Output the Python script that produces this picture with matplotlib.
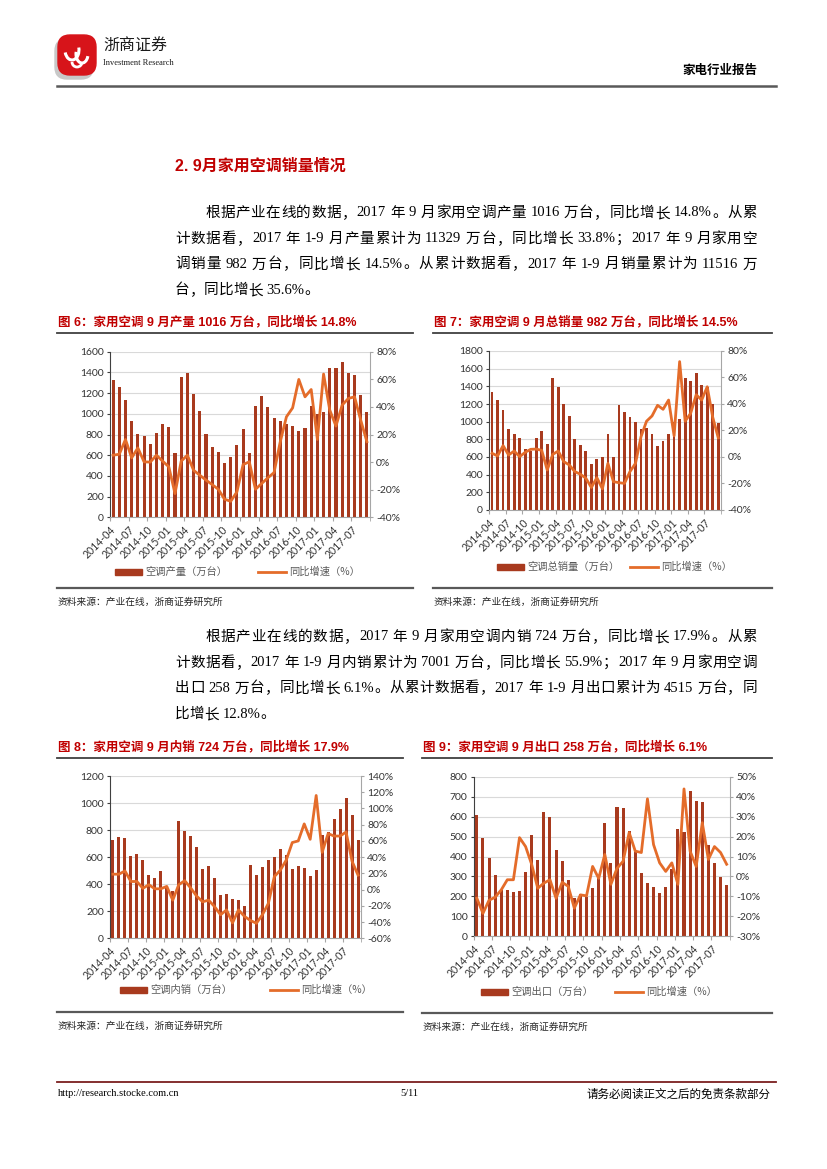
import re
import numpy as np
import matplotlib
matplotlib.use('Agg')
import matplotlib.pyplot as plt
from matplotlib.lines import Line2D
from matplotlib.patches import Rectangle, Ellipse, Arc, FancyBboxPatch

W, H = 827, 1169
BAR = '#A83A1E'
LINE = '#E46C2A'
RED = '#C00000'
CJK = 'Noto Sans CJK SC'

# x axis labels, one every 3 months (2014-04 .. 2017-09 = 42 months)
tick_labels = ['2014-04', '2014-07', '2014-10', '2015-01', '2015-04', '2015-07', '2015-10',
               '2016-01', '2016-04', '2016-07', '2016-10', '2017-01', '2017-04', '2017-07']

production = [1326, 1255, 1132, 926, 806, 787, 713, 816, 900, 877, 619, 1352, 1390, 1187, 1026,
              806, 677, 635, 523, 584, 703, 852, 619, 1074, 1168, 1065, 958, 926, 900, 884,
              832, 861, 1071, 994, 1013, 1439, 1439, 1497, 1390, 1371, 1177, 1016]
production_yoy = [5.0, 5.7, 16.4, 3.1, 10.3, 0.2, 0.0, 5.0, 0.7, -3.4, -22.8, 0.7, 5.0, -5.9,
                  -9.5, -13.0, -16.3, -19.7, -26.9, -28.4, -21.6, -1.8, 0.2, -19.7, -15.5,
                  -11.4, -7.6, 14.7, 32.8, 39.3, 59.9, 47.3, 52.6, 16.4, 63.8, 37.7, 26.1,
                  41.3, 46.1, 47.3, 30.4, 14.8]

sales = [1332, 1245, 1132, 917, 857, 815, 691, 670, 819, 894, 743, 1494, 1396, 1196, 1064,
         804, 736, 664, 525, 577, 600, 857, 600, 1189, 1113, 1057, 1000, 917, 925, 857,
         725, 781, 857, 994, 1030, 1494, 1464, 1547, 1415, 1396, 1200, 982]
sales_yoy = [2.8, 0.8, 8.6, 1.5, 4.5, 0.3, 3.5, 5.8, 6.0, 5.0, -9.8, 2.0, 4.5, -3.5, -6.0,
             -11.0, -13.0, -16.0, -23.0, -15.6, -24.0, -4.8, -18.6, -19.4, -19.9, -11.0,
             -4.8, 15.3, 27.0, 31.0, 39.0, 36.0, 43.0, 16.0, 72.0, 27.0, 33.0, 47.0, 43.0,
             53.0, 30.0, 14.5]

domestic = [727, 746, 739, 611, 623, 579, 466, 443, 495, 375, 352, 868, 797, 758, 677, 515,
            535, 447, 318, 330, 288, 283, 239, 542, 466, 530, 576, 603, 663, 613, 510, 532,
            522, 458, 507, 764, 785, 882, 958, 1034, 909, 724]
domestic_yoy = [19, 19, 23, 10, 10, 1.6, 6, 1, 1, 4, -13, 6, 11, 2, -8, -15, -13, -21, -31,
                -25, -41, -25, -33, -38, -41.5, -31, -17, 16, 24, 36.5, 58, 60, 81, 62, 116,
                46, 69, 66, 66, 71, 35, 17.9]

exports = [610, 495, 393, 305, 232, 233, 222, 228, 320, 510, 383, 625, 598, 433, 378, 283,
           190, 209, 198, 240, 305, 570, 365, 650, 645, 528, 425, 318, 267, 245, 214, 247,
           335, 536, 522, 732, 680, 674, 460, 366, 296, 258]
exports_yoy = [-11, -18.6, -12, -10.5, -6.8, -1.7, -1.7, 19.5, 15, 6, -6, -3.4, -1.7, -11, -3,
               -5, -16, -9.3, -9.8, 5, -1, 11, -4, 4, 7.6, 22, 12.7, 12, 39, 16, 6.8, 2.5,
               6.8, -4, 44, 12.7, 5, 27, 8.5, 15, 12, 6.1]

para1 = ['根据产业在线的数据，2017 年 9 月家用空调产量 1016 万台，同比增长 14.8%。从累',
         '计数据看，2017 年 1-9 月产量累计为 11329 万台，同比增长 33.8%；2017 年 9 月家用空',
         '调销量 982 万台，同比增长 14.5%。从累计数据看，2017 年 1-9 月销量累计为 11516 万',
         '台，同比增长 35.6%。']
para2 = ['根据产业在线的数据，2017 年 9 月家用空调内销 724 万台，同比增长 17.9%。从累',
         '计数据看，2017 年 1-9 月内销累计为 7001 万台，同比增长 55.9%；2017 年 9 月家用空调',
         '出口 258 万台，同比增长 6.1%。从累计数据看，2017 年 1-9 月出口累计为 4515 万台，同',
         '比增长 12.8%。']

fig = plt.figure(figsize=(W / 100, H / 100), dpi=100)
renderer = fig.canvas.get_renderer()


def fx(x):
    return x / W


def fy(y):
    return 1 - y / H


def text(x, y, s, **kw):
    kw.setdefault('va', 'center')
    return fig.text(fx(x), fy(y), s, **kw)


def hline(x0, x1, y, color, lw):
    fig.add_artist(Line2D([fx(x0), fx(x1)], [fy(y), fy(y)], color=color, lw=lw))


def justify(x0, x1, y, s, size, stretch=True):
    # split into single CJK chars and latin words, then spread them over the line
    parts = re.findall(r'[\x21-\x7e]+|\s+|[^\x00-\x7f]', s)
    toks, gaps = [], []
    sp = False
    for p in parts:
        if p.isspace():
            sp = True
            continue
        toks.append(p)
        gaps.append(sp)
        sp = False
    em = size * 100 / 72
    ws = []
    for tk in toks:
        if tk.isascii():
            t = fig.text(0, 0, tk, fontsize=size, family='Liberation Serif')
            ws.append(t.get_window_extent(renderer).width)
            t.remove()
        else:
            ws.append(em)
    space_w = 0.25 * em
    natural = sum(ws) + space_w * sum(gaps)
    extra = (x1 - x0 - natural) / (len(toks) - 1) if stretch else 0
    x = x0
    for i, tk in enumerate(toks):
        if i > 0:
            x += extra + (space_w if gaps[i] else 0)
        if tk.isascii():
            text(x, y, tk, fontsize=size, family='Liberation Serif', color='black')
        else:
            text(x, y, tk, fontsize=size, family=CJK, weight='light', color='black')
        x += ws[i]


def draw_chart(box, bars, yoy, ymax, ystep, rmin, rmax, rstep):
    l, t, r, b = box
    ax = fig.add_axes([fx(l), fy(b), fx(r) - fx(l), fy(t) - fy(b)])
    x = np.arange(len(bars))
    ax.bar(x, bars, width=0.5, color=BAR, zorder=2)
    ax.set_xlim(-0.5, len(bars) - 0.5)
    ax.set_ylim(0, ymax)
    ax.set_yticks(np.arange(0, ymax + 1, ystep))
    ax.yaxis.grid(True, color='#D9D9D9', lw=0.8)
    ax.set_axisbelow(True)
    ax.set_xticks(np.arange(0, len(bars), 3) - 0.5)
    ax.set_xticks([len(bars) - 0.5], minor=True)
    ax.set_xticklabels(tick_labels, rotation=45, ha='right', rotation_mode='anchor',
                       fontsize=7.6, color='#333333', family='Lato')
    ax.tick_params(axis='x', which='both', length=3, color='#A6A6A6', pad=2)
    ax.tick_params(axis='y', length=2.5, color='#404040', labelsize=7.5, labelcolor='#333333', pad=2)
    for lab in ax.get_yticklabels():
        lab.set_family('Lato')
    ax.spines['top'].set_visible(False)
    ax.spines['right'].set_visible(False)
    ax.spines['left'].set_color('#404040')
    ax.spines['bottom'].set_color('#A6A6A6')

    ax2 = ax.twinx()
    ax2.plot(x, yoy, color=LINE, lw=2.0, zorder=3)
    ax2.set_ylim(rmin, rmax)
    ax2.set_yticks(np.arange(rmin, rmax + 0.1, rstep))
    ax2.set_yticklabels(['%d%%' % v for v in np.arange(rmin, rmax + 0.1, rstep)],
                        family='Lato')
    ax2.tick_params(axis='y', length=2.5, color='#A6A6A6', labelsize=7.5, labelcolor='#333333', pad=2)
    for side in ['top', 'left', 'bottom']:
        ax2.spines[side].set_visible(False)
    ax2.spines['right'].set_color('#A6A6A6')
    return ax


def legend(y, bx, bar_text, lx, line_text):
    fig.add_artist(Rectangle((fx(bx), fy(y + 3)), 27 / W, 6 / H, color=BAR,
                             transform=fig.transFigure))
    text(bx + 30, y, bar_text, fontsize=7.4, family=CJK, color='#595959')
    fig.add_artist(Line2D([fx(lx), fx(lx + 28)], [fy(y), fy(y)], color=LINE, lw=2.0))
    text(lx + 31, y, line_text, fontsize=7.4, family=CJK, color='#595959')


def caption(x0, x1, y, s):
    text(x0 + 1, y, s, fontsize=9, family=['Liberation Sans', CJK], weight='bold', color=RED)
    hline(x0, x1, y + 11, '#404040', 1.3)


def source(x0, x1, y):
    hline(x0, x1, y, '#595959', 1.6)
    text(x0 + 1, y + 14, '资料来源：产业在线，浙商证券研究所', fontsize=7, family=CJK, color='#262626')


# header
ax_logo = fig.add_axes([fx(52), fy(80), 50 / W, 50 / H])
ax_logo.set_xlim(0, 50)
ax_logo.set_ylim(0, 50)
ax_logo.axis('off')
ax_logo.add_patch(FancyBboxPatch((6, 4), 32, 34, boxstyle='round,pad=3,rounding_size=12',
                                 color='#C8C8C8'))
ax_logo.add_patch(FancyBboxPatch((9, 8), 32, 34, boxstyle='round,pad=3,rounding_size=12',
                                 color='#D7141A'))
ax_logo.add_patch(Arc((20, 30), 14, 20, theta1=200, theta2=20, color='white', lw=2.2))
ax_logo.add_patch(Arc((30, 26), 12, 18, theta1=160, theta2=340, color='white', lw=2.2))
ax_logo.add_patch(Arc((25, 18), 10, 10, theta1=180, theta2=360, color='white', lw=2.0))
text(103, 46, '浙商证券', fontsize=11.5, family=CJK, color='#1A1A1A')
text(103, 63, 'Investment Research', fontsize=6, family='Liberation Serif', color='#1A1A1A')
text(757, 70, '家电行业报告', fontsize=9, family=CJK, weight='bold', ha='right', color='black')
hline(57, 776, 86, '#595959', 1.8)

text(175, 166, '2. 9月家用空调销量情况', fontsize=11.5, family=['Liberation Sans', CJK],
     weight='bold', color=RED)

for i, line in enumerate(para1):
    x0 = 205 if i == 0 else 175
    justify(x0, 757, 213 + i * 25.7, line, 10.5, stretch=i < len(para1) - 1)

for i, line in enumerate(para2):
    x0 = 205 if i == 0 else 175
    justify(x0, 757, 637 + i * 25.7, line, 10.5, stretch=i < len(para2) - 1)

# figure 6
caption(57, 413, 322, '图 6：家用空调 9 月产量 1016 万台，同比增长 14.8%')
draw_chart((110, 351.7, 370, 517.3), production, production_yoy, 1600, 200, -40, 80, 20)
legend(572, 115, '空调产量（万台）', 258, '同比增速（%）')
source(57, 413, 588)

# figure 7
caption(433, 772, 322, '图 7：家用空调 9 月总销量 982 万台，同比增长 14.5%')
draw_chart((489.3, 351, 721, 510), sales, sales_yoy, 1800, 200, -40, 80, 20)
legend(567, 497, '空调总销量（万台）', 630, '同比增速（%）')
source(433, 772, 588)

# figure 8
caption(57, 403, 747, '图 8：家用空调 9 月内销 724 万台，同比增长 17.9%')
draw_chart((110, 776, 361, 938.3), domestic, domestic_yoy, 1200, 200, -60, 140, 20)
legend(990, 120, '空调内销（万台）', 270, '同比增速（%）')
source(57, 403, 1012)

# figure 9
caption(422, 772, 747, '图 9：家用空调 9 月出口 258 万台，同比增长 6.1%')
draw_chart((473.8, 777, 729.7, 936), exports, exports_yoy, 800, 100, -30, 50, 10)
legend(992, 481, '空调出口（万台）', 615, '同比增速（%）')
source(422, 772, 1013)

# footer
hline(57, 776, 1082, '#7B1F1F', 1.3)
text(58, 1094, 'http://research.stocke.com.cn', fontsize=7.5, family='Liberation Serif', color='black')
text(409, 1094, '5/11', fontsize=7.5, family='Liberation Serif', ha='center', color='black')
text(770, 1094, '请务必阅读正文之后的免责条款部分', fontsize=8.3, family=CJK, ha='right', color='black')

fig.savefig('out.png', dpi=100, facecolor='white')
